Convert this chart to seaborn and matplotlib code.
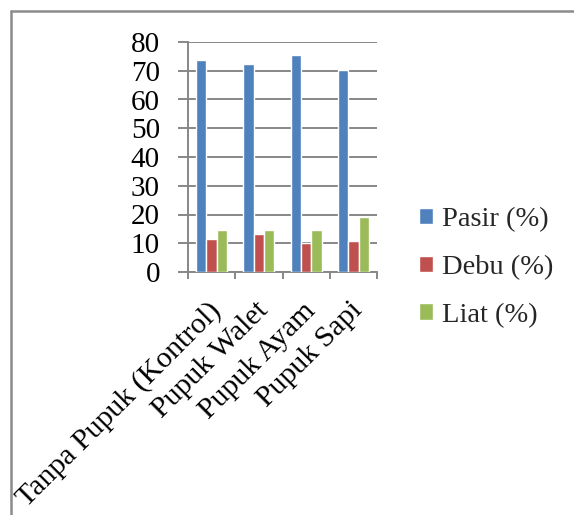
import matplotlib
matplotlib.use("Agg")
import matplotlib.pyplot as plt
import matplotlib.transforms as mtransforms
from matplotlib.lines import Line2D
import seaborn as sns
import pandas as pd

# Soil texture fractions per fertilizer treatment
categories = ["Tanpa Pupuk (Kontrol)", "Pupuk Walet", "Pupuk Ayam", "Pupuk Sapi"]
pasir = [73.9, 72.3, 75.6, 70.2]
debu = [11.5, 13.2, 10.0, 10.8]
liat = [14.5, 14.5, 14.7, 19.2]
series_names = ["Pasir (%)", "Debu (%)", "Liat (%)"]
colors = ["#4F81BD", "#C0504D", "#9BBB59"]
y_ticks = [0, 10, 20, 30, 40, 50, 60, 70, 80]

rows = []
for name, vals in zip(series_names, [pasir, debu, liat]):
    for cat, v in zip(categories, vals):
        rows.append({"Perlakuan": cat, "Seri": name, "Nilai": v})
df = pd.DataFrame(rows)

sns.set_style("white")
plt.rcParams["font.family"] = ["Liberation Serif", "DejaVu Serif"]

W, H = 574, 515
fig = plt.figure(figsize=(W / 100, H / 100), dpi=100)
ax = fig.add_axes([188 / W, 1 - 272 / H, (377 - 188) / W, (272 - 42) / H])

sns.barplot(data=df, x="Perlakuan", y="Nilai", hue="Seri", order=categories,
            hue_order=series_names, palette=colors, width=0.66, gap=0,
            saturation=1, ax=ax, legend=True, zorder=3)

grid_c = "#878787"
ax.set_ylim(0, 80)
ax.set_xlim(-0.5, len(categories) - 0.5)
ax.set_yticks(y_ticks)
ax.set_yticklabels([str(t) for t in y_ticks])
ax.yaxis.grid(True, color=grid_c, linewidth=1.4, zorder=0)
ax.set_axisbelow(True)
ax.set_xlabel("")
ax.set_ylabel("")

for s in ["top", "right"]:
    ax.spines[s].set_visible(False)
for s in ["left", "bottom"]:
    ax.spines[s].set_color(grid_c)
    ax.spines[s].set_linewidth(1.4)

ax.tick_params(axis="y", which="major", left=True, length=7.2, width=1.4,
               color=grid_c, labelsize=21, pad=13, labelcolor="black")
ax.set_xticks(range(len(categories)))
ax.set_xticks([i - 0.5 for i in range(len(categories) + 1)], minor=True)
ax.tick_params(axis="x", which="major", length=0, labelsize=21.5, pad=14,
               labelcolor="black")
ax.tick_params(axis="x", which="minor", bottom=True, length=5, width=1.4,
               color=grid_c)
ax.set_xticklabels(categories, rotation=45, ha="right", va="top",
                   rotation_mode="anchor")
# nudge the slanted category labels down and to the left
shift = mtransforms.ScaledTranslation(-4 / 100, -6 / 100, fig.dpi_scale_trans)
for lbl in ax.get_xticklabels():
    lbl.set_transform(lbl.get_transform() + shift)

handles, labels = ax.get_legend_handles_labels()
ax.get_legend().remove()
fig.legend(handles, labels, loc="upper left",
           bbox_to_anchor=(419 / W, 1 - 207 / H), frameon=False,
           fontsize=20.5, handlelength=0.5, handleheight=0.5,
           handletextpad=0.3, labelspacing=0.8, borderpad=0,
           borderaxespad=0)

# outer chart frame (top and left edges)
fig.add_artist(Line2D([11 / W, 1], [1 - 11 / H, 1 - 11 / H], color="#8c8c8c",
                      linewidth=1.8, transform=fig.transFigure))
fig.add_artist(Line2D([11 / W, 11 / W], [0, 1 - 11 / H], color="#8c8c8c",
                      linewidth=1.8, transform=fig.transFigure))

fig.savefig("out.png", dpi=100)
